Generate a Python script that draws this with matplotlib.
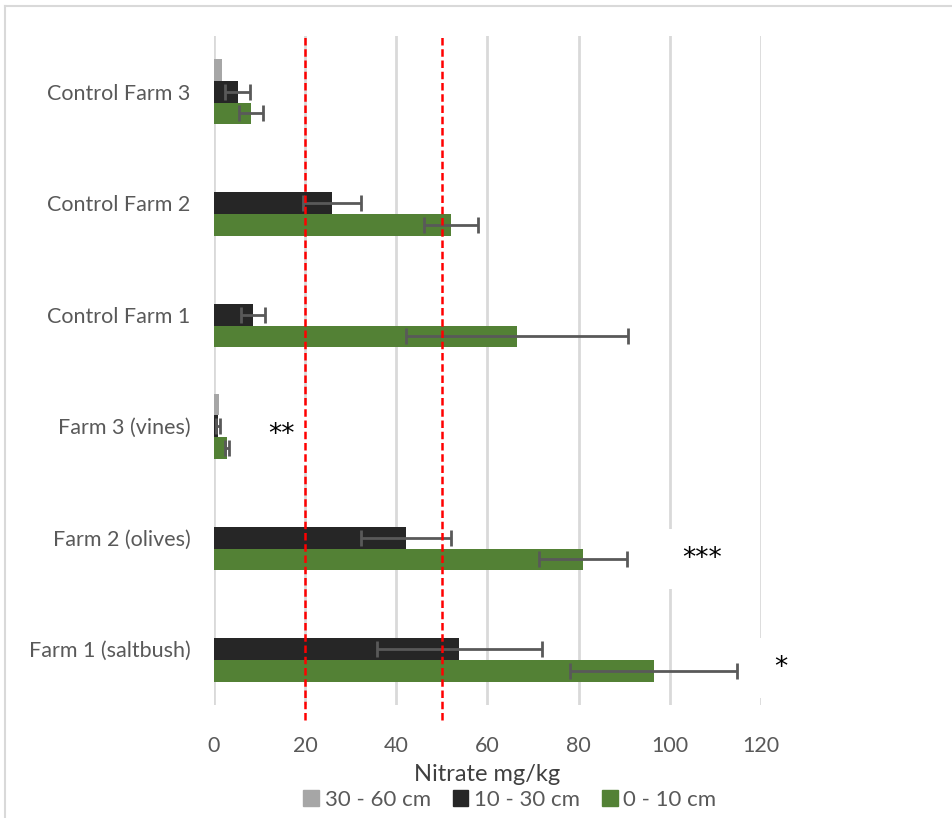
import numpy as np
import matplotlib
matplotlib.use("Agg")
import matplotlib.pyplot as plt
from matplotlib.patches import Patch
from matplotlib.lines import Line2D

farms = ["Farm 1 (saltbush)", "Farm 2 (olives)", "Farm 3 (vines)",
         "Control Farm 1", "Control Farm 2", "Control Farm 3"]
nitrate_0_10 = [96.5, 81.0, 2.9, 66.5, 52.0, 8.1]
err_0_10 = [18.3, 9.6, 0.4, 24.3, 6.0, 2.6]
nitrate_10_30 = [53.8, 42.1, 0.9, 8.6, 25.9, 5.2]
err_10_30 = [18.1, 9.8, 0.5, 2.6, 6.3, 2.7]
nitrate_30_60 = [0.0, 0.0, 1.1, 0.0, 0.0, 1.7]
limits = [20, 50]
stars = [("*", 124.4, -0.17), ("***", 107.1, 0.81), ("**", 14.9, 1.92)]
xticks = [0, 20, 40, 60, 80, 100, 120]

GREEN = "#538135"
BLACK = "#262626"
GREY = "#a6a6a6"
TXT = "#595959"

plt.rcParams["font.family"] = ["Lato", "DejaVu Sans"]

W, H = 953, 818
fig = plt.figure(figsize=(W / 100, H / 100), dpi=100)
ax = fig.add_axes([214 / W, 1 - 705 / H, (761 - 214) / W, (705 - 36) / H])

y = np.arange(len(farms))
h = 0.193
ekw = dict(ecolor=TXT, elinewidth=2, capsize=6, capthick=2, zorder=3)

ax.barh(y - h, nitrate_0_10, height=h, color=GREEN, zorder=2)
ax.errorbar(nitrate_0_10, y - h, xerr=err_0_10, fmt="none", **ekw)
ax.barh(y, nitrate_10_30, height=h, color=BLACK, zorder=2)
ax.errorbar(nitrate_10_30, y, xerr=err_10_30, fmt="none", **ekw)
ax.barh(y + h, nitrate_30_60, height=h, color=GREY, zorder=2)

for v in limits:
    ax.axvline(v, ymin=-0.022, ymax=1.0, color="red", ls=(0, (3, 1.5)),
               lw=1.8, zorder=6, clip_on=False)

for s, xs, ys in stars:
    ax.text(xs, ys, s, ha="center", va="center", fontsize=19,
            family="DejaVu Sans", color="black", zorder=5, clip_on=False,
            bbox=dict(boxstyle="square,pad=0.65", fc="white", ec="none"))

ax.set_xlim(0, 120)
ax.set_ylim(-0.5, len(farms) - 0.5)
ax.set_xticks(xticks)
ax.set_yticks(y)
ax.set_yticklabels(farms)
ax.grid(axis="x", color="#d9d9d9", lw=2, zorder=0)
ax.set_axisbelow(True)
ax.tick_params(axis="both", length=0, colors=TXT, labelsize=15.5)
ax.tick_params(axis="x", pad=22)
ax.tick_params(axis="y", pad=17)
for sp in ax.spines.values():
    sp.set_visible(False)

ax.set_xlabel("Nitrate mg/kg", fontsize=17, color="#404040")
ax.xaxis.set_label_coords(0.5, -(764 - 705) / (705 - 36))

handles = [Patch(color=GREY), Patch(color=BLACK), Patch(color=GREEN)]
fig.legend(handles, ["30 - 60 cm", "10 - 30 cm", "0 - 10 cm"], ncol=3,
           loc="center", bbox_to_anchor=(510 / W, 1 - 800 / H), frameon=False,
           fontsize=16, labelcolor=TXT, handlelength=0.7, handleheight=0.7,
           handletextpad=0.25, columnspacing=1.0, borderpad=0)

# light frame around the chart area
fig.add_artist(Line2D([5 / W, 5 / W], [0, 1 - 6 / H], color="#d9d9d9", lw=1.5))
fig.add_artist(Line2D([5 / W, 1], [1 - 6 / H, 1 - 6 / H], color="#d9d9d9", lw=1.5))

fig.savefig("out.png", dpi=100, facecolor="white")
